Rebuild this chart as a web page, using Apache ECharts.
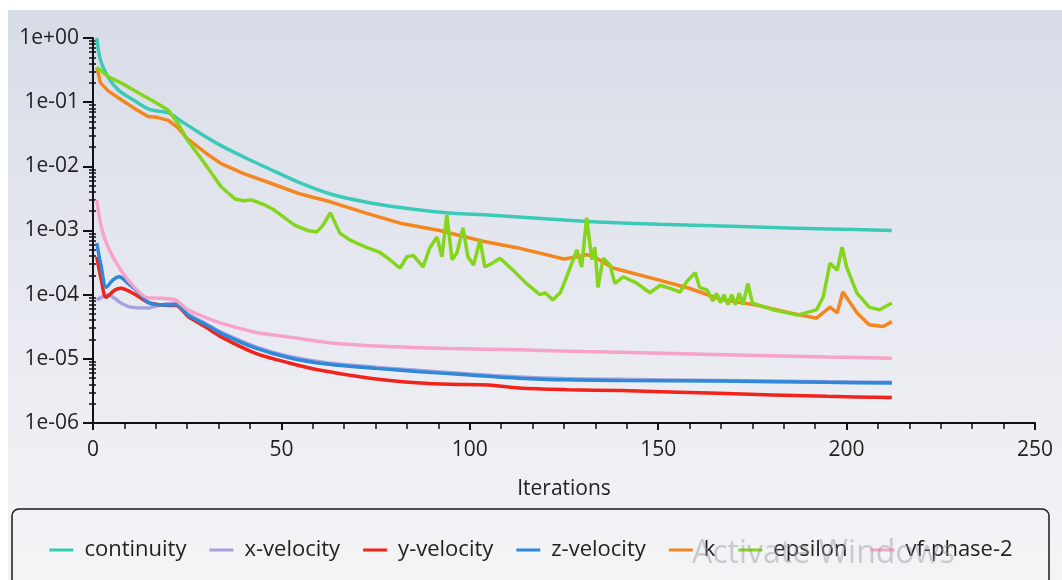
<!DOCTYPE html>
<html>
<head>
<meta charset="utf-8">
<script src="https://cdn.jsdelivr.net/npm/echarts@6/dist/echarts.min.js"></script>
<style>
  html, body { margin: 0; padding: 0; background: #ffffff; }
  #chart { width: 1062px; height: 580px; }
</style>
</head>
<body>
<div id="chart"></div>
<script>
// residuals: [iteration, value]
var continuity = [[1,1.0],[2,0.45],[4.5,0.22],[7,0.15],[10.5,0.11],[15,0.077],[20,0.068],[24,0.048],[28,0.034],[34,0.021],[40,0.014],[47,0.009],[55,0.0055],[63,0.0037],[72,0.0028],[81,0.0023],[93,0.0019],[108,0.0017],[120,0.00152],[134,0.00136],[150,0.00125],[174,0.00114],[195,0.00106],[212,0.001]];

var xVelocity = [[1,0.000083],[2.2,0.000091],[4,0.0001],[7.4,0.000074],[10,0.000064],[14.6,0.000062],[16.5,0.000066],[20,0.000072],[22,0.000073],[25.2,0.00005],[30,0.000035],[34,0.000026],[43,0.0000155],[51.8,0.000011],[62,0.0000087],[75,0.0000074],[86.8,0.0000066],[100,0.0000058],[113,0.0000052],[126,0.0000049],[140,0.0000048],[166,0.0000046],[194.8,0.0000044],[212,0.0000043]];

var yVelocity = [[1,0.00039],[2.2,0.00017],[3.5,0.000091],[5.8,0.000118],[7.4,0.000126],[10,0.00011],[12.7,0.000089],[15,0.000074],[20,0.000068],[22,0.000068],[25.2,0.000046],[30,0.000031],[34,0.000022],[43,0.0000123],[51.8,0.0000087],[60,0.0000067],[73.5,0.000005],[86.8,0.0000042],[95,0.000004],[105,0.0000039],[113,0.0000035],[126,0.0000033],[140,0.0000032],[166,0.0000029],[194.8,0.0000026],[212,0.0000025]];

var zVelocity = [[1,0.00064],[2.2,0.00027],[3.5,0.00013],[5.3,0.00017],[7,0.00019],[9.3,0.00015],[12,0.00011],[15,0.000074],[20,0.000069],[22,0.00007],[25.2,0.000048],[30,0.000034],[34,0.000025],[43,0.0000148],[51.8,0.0000105],[62,0.0000083],[75,0.0000071],[86.8,0.0000063],[100,0.0000056],[113,0.000005],[126,0.0000047],[140,0.0000046],[166,0.0000045],[194.8,0.0000043],[212,0.0000042]];

var kRes = [[1,0.35],[2,0.2],[4,0.15],[7.4,0.11],[11,0.08],[14.6,0.06],[17,0.058],[20,0.052],[22.5,0.04],[25,0.027],[30,0.016],[34,0.011],[40,0.0077],[47,0.0055],[55,0.0037],[63,0.0028],[72,0.0019],[81.5,0.0013],[92,0.001],[103.5,0.00068],[112.5,0.00054],[125,0.00036],[127.5,0.00038],[131,0.00042],[133,0.00039],[138,0.00026],[150,0.00017],[158,0.000127],[167,0.000083],[176,0.000069],[185,0.000052],[192,0.000043],[195.6,0.000064],[197.5,0.000052],[199,0.00011],[202.8,0.000052],[206,0.000034],[209.7,0.000032],[212,0.000038]];

var epsilon = [[1,0.35],[4,0.25],[7.4,0.2],[12,0.14],[16.5,0.1],[20,0.075],[22.5,0.047],[25,0.026],[29.7,0.011],[34,0.0048],[37.7,0.0031],[40,0.0029],[42,0.003],[45.6,0.0025],[48,0.0021],[53.6,0.0012],[57,0.001],[59.4,0.00095],[61,0.0012],[63,0.0019],[65.5,0.00091],[68.2,0.00071],[72.7,0.00054],[76,0.00046],[78.8,0.00035],[81.5,0.00026],[83.3,0.00039],[85,0.00041],[87.6,0.00027],[89.4,0.00054],[91.3,0.00079],[92.6,0.00039],[93.9,0.00174],[95.3,0.00035],[96.6,0.00045],[98.2,0.0011],[99.5,0.00039],[101,0.00029],[102.7,0.00071],[104,0.00027],[106,0.00031],[108,0.00037],[111.5,0.00024],[115,0.00015],[118.6,0.0001],[120,0.000107],[122,0.000083],[124,0.000107],[125.7,0.00019],[128.4,0.0005],[129.7,0.00027],[131,0.00158],[132.4,0.00035],[133.2,0.00055],[134,0.00013],[135.4,0.00037],[137.2,0.00029],[138.5,0.00015],[140.7,0.00019],[144.4,0.00015],[147.8,0.000107],[150.5,0.00014],[153,0.000126],[155.8,0.00011],[157.6,0.00016],[159.8,0.00022],[161,0.00013],[163,0.000118],[164.5,0.00008],[165.5,0.000105],[166.5,0.000075],[167.5,0.0001],[168.5,0.00007],[169.5,0.0001],[170.5,0.00007],[171.5,0.000105],[172.5,0.00007],[173.8,0.00015],[175,0.000074],[180.5,0.000058],[187,0.000048],[192,0.000058],[193.8,0.000092],[195.6,0.00031],[197.5,0.00024],[198.8,0.00055],[200,0.00027],[202.7,0.000107],[206,0.000064],[208.8,0.000058],[212,0.000074]];

var vfPhase2 = [[1,0.003],[2.2,0.00114],[4,0.00055],[7.4,0.00024],[11,0.00013],[14.6,0.000089],[18,0.000088],[21.8,0.000083],[25.2,0.000058],[30,0.000044],[34,0.000036],[43,0.000026],[51.8,0.000022],[62,0.000018],[78,0.0000155],[95,0.0000145],[113,0.0000138],[130,0.000013],[148.6,0.0000123],[170,0.0000115],[194.8,0.0000107],[212,0.0000102]];

var seriesNames = ['continuity','x-velocity','y-velocity','z-velocity','k','epsilon','vf-phase-2'];
var seriesColors = ['#3ccab8','#a8a2de','#f2231b','#2f88d8','#f5861f','#84d51c','#f7a3c9'];

// minor ticks of the log axis: 2..9 x 10^n, as log10 positions
var yMinorTicks = [];
for (var d = -6; d < 0; d++) {
    for (var m = 2; m <= 9; m++) {
        yMinorTicks.push(d + Math.log10(m));
    }
}

var FONT = 'Open Sans';

var myChart = echarts.init(document.getElementById('chart'));

function expLabel(v) {
    var e = Math.round(Math.log10(v));
    var a = Math.abs(e);
    return '1e' + (e < 0 ? '-' : '+') + (a < 10 ? '0' + a : a);
}

function lineSeries(name, data, color, smooth) {
    return {
        name: name,
        type: 'line',
        data: data,
        showSymbol: false,
        smooth: smooth,
        color: color,
        lineStyle: { width: 3.5, color: color },
        emphasis: { disabled: true }
    };
}

var option = {
    animation: false,
    graphic: [
        {
            type: 'rect', z: -100,
            shape: { x: 8, y: 10, width: 1054, height: 570 },
            style: {
                fill: new echarts.graphic.LinearGradient(0, 0, 0, 1, [
                    { offset: 0, color: '#d8dce7' },
                    { offset: 0.7, color: '#eceef3' },
                    { offset: 1, color: '#f4f4f6' }
                ])
            }
        },
        {
            type: 'rect', z: 10,
            shape: { x: 12, y: 509, width: 1037, height: 90, r: 7 },
            style: { fill: 'none', stroke: '#1a1a1a', lineWidth: 1.5 }
        },
        {
            type: 'text', z: 20, left: 692, top: 538,
            style: { text: 'Activate Windows', fill: 'rgba(150,150,160,0.45)', font: '32px "Open Sans"' }
        }
    ],
    legend: {
        data: seriesNames,
        left: 'center',
        top: 534,
        icon: 'rect',
        itemWidth: 24,
        itemHeight: 3,
        itemGap: 23,
        textStyle: { fontFamily: FONT, fontSize: 22, color: '#222', padding: [0, 0, 0, 6] }
    },
    grid: { left: 93, right: 27, top: 38, bottom: 157 },
    xAxis: {
        type: 'value',
        min: 0,
        max: 250,
        interval: 50,
        name: 'Iterations',
        nameLocation: 'middle',
        nameGap: 56,
        nameTextStyle: { fontFamily: FONT, fontSize: 21, color: '#222' },
        axisLine: { onZero: false, lineStyle: { color: '#111', width: 2 } },
        axisTick: { length: 7, lineStyle: { color: '#111', width: 2 } },
        minorTick: { show: true, splitNumber: 6, length: 6, lineStyle: { color: '#111', width: 1.5 } },
        axisLabel: { fontFamily: FONT, fontSize: 21, color: '#222', margin: 17 },
        splitLine: { show: false }
    },
    yAxis: [
        {
            type: 'log',
            position: 'left',
            min: 1e-6,
            max: 1,
            splitNumber: 6,
            axisLine: { lineStyle: { color: '#111', width: 2 } },
            axisTick: { length: 10, lineStyle: { color: '#111', width: 2 } },
            axisLabel: { fontFamily: FONT, fontSize: 21, color: '#222', margin: 14, formatter: expLabel },
            splitLine: { show: false }
        },
        {
            type: 'value',
            position: 'left',
            min: -6,
            max: 0,
            axisLine: { show: false },
            axisTick: { length: 4, customValues: yMinorTicks, lineStyle: { color: '#111', width: 1.5 } },
            axisLabel: { show: false },
            splitLine: { show: false }
        },
        {
            type: 'value',
            position: 'left',
            min: -6,
            max: 0,
            axisLine: { show: false },
            axisTick: { inside: true, length: 3, customValues: yMinorTicks, lineStyle: { color: '#111', width: 1.5 } },
            axisLabel: { show: false },
            splitLine: { show: false }
        }
    ],
    series: [
        lineSeries(seriesNames[0], continuity, seriesColors[0], 0.3),
        lineSeries(seriesNames[1], xVelocity, seriesColors[1], 0.3),
        lineSeries(seriesNames[2], yVelocity, seriesColors[2], 0.3),
        lineSeries(seriesNames[3], zVelocity, seriesColors[3], 0.3),
        lineSeries(seriesNames[4], kRes, seriesColors[4], false),
        lineSeries(seriesNames[5], epsilon, seriesColors[5], false),
        lineSeries(seriesNames[6], vfPhase2, seriesColors[6], 0.3)
    ]
};
myChart.setOption(option);
</script>
</body>
</html>
